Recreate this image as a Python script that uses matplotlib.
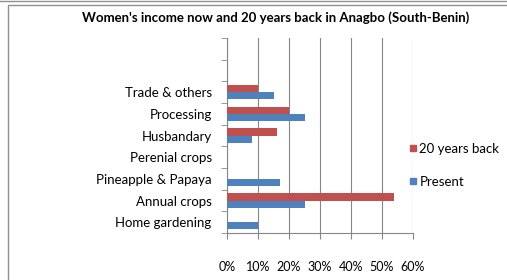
import numpy as np
import matplotlib.pyplot as plt
from matplotlib.patches import Rectangle
from matplotlib.lines import Line2D

plt.rcParams['font.family'] = ['Lato', 'DejaVu Sans']

# Data (bottom to top), two empty slots on top
categories = ['Home gardening', 'Annual crops', 'Pineapple & Papaya', 'Perenial crops',
              'Husbandary', 'Processing', 'Trade & others', '', '']
back20 = [0, 54, 0, 0, 16, 20, 10, 0, 0]
present = [10, 25, 17, 0, 8, 25, 15, 0, 0]
xticks = [0, 10, 20, 30, 40, 50, 60]

red = '#C0504D'
blue = '#4F81BD'

fig = plt.figure(figsize=(5.07, 2.80), dpi=100)
ax = fig.add_axes([227 / 507, 1 - 233 / 280, (413 - 227) / 507, (233 - 38) / 280])

y = np.arange(len(categories))
h = 0.33
ax.barh(y + h / 2, back20, height=h, color=red, label='20 years back', zorder=3)
ax.barh(y - h / 2, present, height=h, color=blue, label='Present', zorder=3)

ax.set_xlim(0, 60)
ax.set_ylim(-0.5, len(categories) - 0.5)
ax.set_xticks(xticks)
ax.set_xticklabels([f'{v}%' for v in xticks], fontsize=9)
ax.set_yticks(y)
ax.set_yticklabels(categories, fontsize=9.5)
ax.set_yticks(np.arange(len(categories) + 1) - 0.5, minor=True)
ax.tick_params(axis='y', which='major', length=0, pad=11)
ax.tick_params(axis='y', which='minor', length=4, color='#868686')
ax.tick_params(axis='x', length=4, color='#868686', pad=16)
ax.grid(axis='x', color='#868686', linewidth=0.8, zorder=0)
for s in ['top', 'right']:
    ax.spines[s].set_visible(False)
for s in ['left', 'bottom']:
    ax.spines[s].set_color('#868686')

handles = [Line2D([], [], marker='s', linestyle='', color=red, markersize=5),
           Line2D([], [], marker='s', linestyle='', color=blue, markersize=5)]
fig.legend(handles, ['20 years back', 'Present'], loc='upper left',
           bbox_to_anchor=(397 / 507, 1 - 131 / 280), frameon=False, fontsize=9.5,
           handlelength=0.6, handletextpad=0.2, labelspacing=1.6)

fig.text(276 / 507, 1 - 18 / 280, "Women's income now and 20 years back in Anagbo (South-Benin)",
         ha='center', va='center', fontsize=9.5, fontweight='bold')

# frame
fig.add_artist(Line2D([0, 1], [1 - 1 / 280, 1 - 1 / 280], color='#909090', lw=1))
fig.add_artist(Rectangle((8 / 507, -0.1), 1, 1.1 - 5 / 280, fill=False,
                         edgecolor='#909090', lw=1, transform=fig.transFigure))

fig.savefig('out.png', dpi=100)
